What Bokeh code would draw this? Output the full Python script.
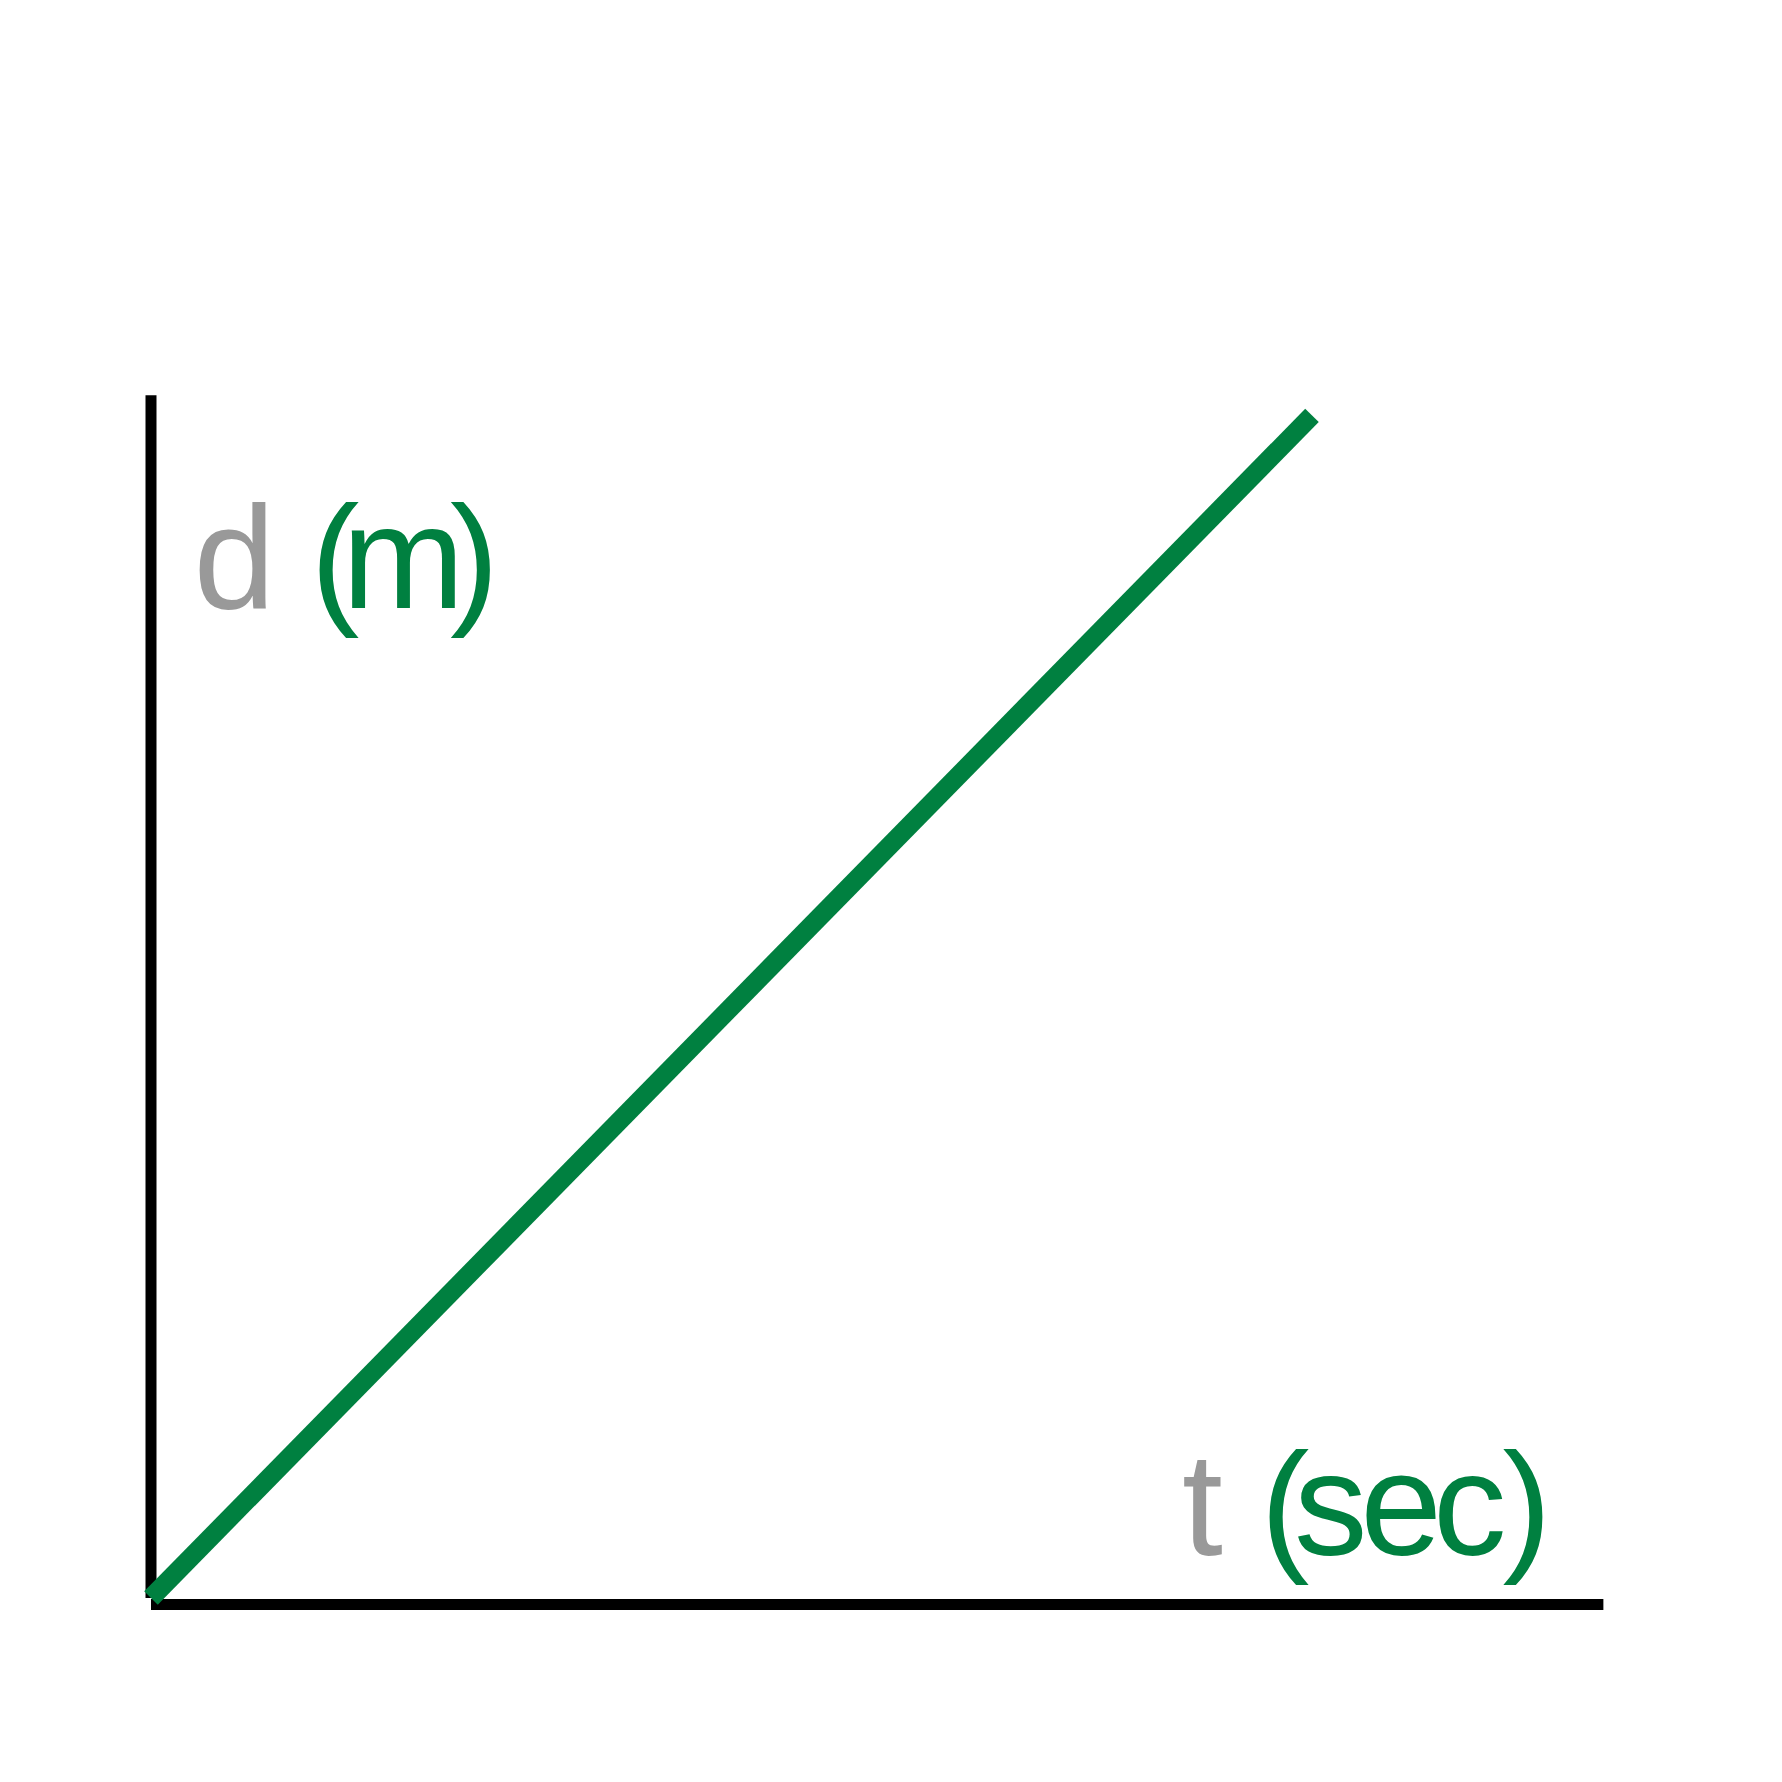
from bokeh.plotting import figure
from bokeh.models import Range1d, ColumnDataSource
from bokeh.core.properties import value
from bokeh.embed import file_html
from bokeh.resources import INLINE

# --- data ---
t_values = [0, 10]          # time (sec)
d_values = [0, 10]          # distance (m)

# axis extents (data units)
t_axis_start, t_axis_end = 0, 12.51
t_axis_level = -0.055
d_axis_start, d_axis_end = 0, 10.17

# label pieces (per character)
label_text = ["d", "(", "m", ")", "t", "(", "s", "e", "c", ")"]
label_t = [0.366, 1.374, 1.645, 2.575, 8.880, 9.556, 9.846, 10.415, 11.043, 11.641]
label_d = [8.799] * 4 + [0.792] * 6
GRAY = "#999999"
GREEN = "#008040"
label_color = [GRAY, GREEN, GREEN, GREEN, GRAY, GREEN, GREEN, GREEN, GREEN, GREEN]

p = figure(width=1766, height=1766, output_backend="svg", toolbar_location=None,
           x_axis_type=None, y_axis_type=None, min_border=0,
           x_range=Range1d(-1.2963, 13.915), y_range=Range1d(-1.4249, 13.509))
p.grid.visible = False
p.outline_line_color = None
p.background_fill_color = "white"
p.border_fill_color = "white"

# axes drawn as lines
p.line([0, 0], [d_axis_start, d_axis_end],
       line_color="black", line_width=11, line_cap="butt")
p.line([t_axis_start, t_axis_end], [t_axis_level, t_axis_level],
       line_color="black", line_width=11, line_cap="butt")

# data line
p.line(t_values, d_values, line_color=GREEN, line_width=19, line_cap="butt")

src = ColumnDataSource(dict(x=label_t, y=label_d, text=label_text, color=label_color))
p.text(x="x", y="y", text="text", text_color="color", source=src,
       text_font=value("Liberation Sans"), text_font_size="147px",
       text_align="left", text_baseline="alphabetic")

open("out.html", "w").write(file_html(p, INLINE))
